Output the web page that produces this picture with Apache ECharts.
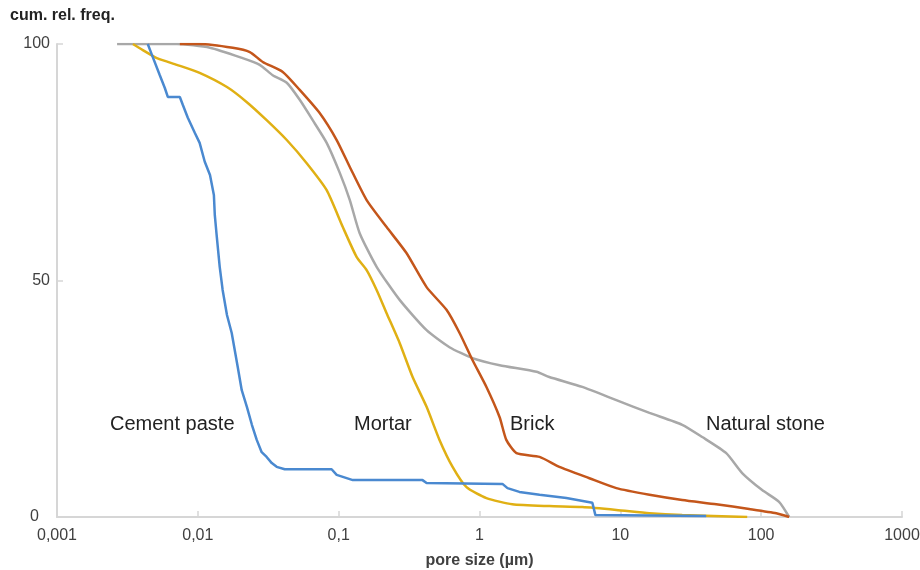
<html>
<head>
    <meta charset="utf-8">
    <title>Pore size distribution</title>
    <script src="https://cdn.jsdelivr.net/npm/echarts@6/dist/echarts.min.js"></script>
    <style>
        html, body { margin: 0; padding: 0; width: 920px; height: 570px; background: #fff; }
        #main { width: 920px; height: 570px; }
    </style>
</head>
<body>
    <div id="main"></div>
    <script type="text/javascript">
        // pore size (µm) / cumulative relative frequency (%)
        var xTickLabels = ['0,001', '0,01', '0,1', '1', '10', '100', '1000'];
        var yTickLabels = ['0', '50', '100'];
        var seriesNames = ['Cement paste', 'Mortar', 'Brick', 'Natural stone'];

        var cementPaste = [
            [0.00441, 100], [0.00472, 97.7], [0.00537, 93.4], [0.00583, 90.7], [0.00612, 88.8],
            [0.00745, 88.8], [0.00783, 87.1], [0.00849, 84.4], [0.00953, 81.2], [0.0103, 79.1],
            [0.0112, 75.1], [0.0122, 72.3], [0.0130, 68.1], [0.0132, 63.8], [0.0136, 59.6],
            [0.0143, 52.9], [0.0150, 48.0], [0.0161, 42.7], [0.0174, 38.9], [0.0192, 31.7],
            [0.0205, 26.8], [0.0223, 23.3], [0.0242, 19.5], [0.0262, 16.3], [0.0284, 13.7],
            [0.0308, 12.7], [0.0335, 11.4], [0.0363, 10.6], [0.0414, 10.1], [0.0891, 10.1],
            [0.0968, 8.9], [0.126, 7.8], [0.394, 7.8], [0.421, 7.2], [1.455, 7.0],
            [1.58, 6.1], [1.92, 5.3], [2.67, 4.7], [4.14, 4.0], [6.33, 3.0],
            [6.65, 0.4], [40.7, 0.2]
        ];
        var mortar = [
            [0.00346, 100], [0.00407, 98.7], [0.00512, 97.0], [0.00709, 95.6], [0.0103, 93.9],
            [0.0161, 90.9], [0.0223, 87.7], [0.0308, 83.9], [0.0428, 79.7], [0.0593, 74.8],
            [0.0822, 69.1], [0.107, 61.3], [0.134, 55.0], [0.158, 52.2], [0.186, 48.0],
            [0.219, 43.1], [0.271, 36.8], [0.335, 29.6], [0.421, 23.3], [0.520, 16.3],
            [0.644, 10.6], [0.809, 6.3], [1.12, 4.0], [1.71, 2.7], [3.13, 2.3],
            [5.37, 2.1], [9.37, 1.5], [16.1, 0.8], [27.5, 0.4], [79.6, 0]
        ];
        var brick = [
            [0.00745, 100], [0.0103, 100], [0.0177, 99.2], [0.0234, 98.3], [0.0289, 96.2],
            [0.0401, 94.1], [0.0529, 90.3], [0.0733, 85.4], [0.0968, 79.7], [0.120, 74.0],
            [0.158, 67.0], [0.219, 61.3], [0.303, 55.8], [0.421, 48.6], [0.583, 43.8],
            [0.722, 38.9], [0.891, 33.2], [1.12, 27.5], [1.39, 21.1], [1.55, 16.3],
            [1.83, 13.5], [2.67, 12.7], [3.69, 10.6], [6.03, 8.2], [9.37, 6.1],
            [16.1, 4.7], [27.5, 3.6], [48.0, 2.7], [82.2, 1.7], [128, 0.8], [158, 0]
        ];
        var naturalStone = [
            [0.00267, 100], [0.00709, 100], [0.0122, 99.2], [0.0208, 97.0], [0.0275, 95.6],
            [0.0340, 93.4], [0.0428, 91.8], [0.0529, 88.2], [0.0654, 83.9], [0.0822, 79.1],
            [0.102, 72.7], [0.120, 67.0], [0.141, 60.0], [0.186, 52.9], [0.271, 45.9],
            [0.421, 39.5], [0.612, 35.9], [0.891, 33.6], [1.39, 32.1], [2.54, 30.7],
            [3.13, 29.6], [5.37, 27.5], [9.37, 24.7], [16.1, 22.0], [27.5, 19.5],
            [38.2, 16.9], [56.5, 13.5], [73.3, 9.3], [101.6, 5.7], [134, 3.2], [158, 0]
        ];

        var colors = ['#4a89d0', '#e0b014', '#c4561b', '#a8a8a8'];
        var font = 'Liberation Sans, Arial, sans-serif';
        var myChart = echarts.init(document.getElementById('main'), null, { renderer: 'canvas' });

        function lineSeries(name, data, color, smooth) {
            return {
                name: name,
                type: 'line',
                data: data,
                showSymbol: false,
                smooth: smooth,
                lineStyle: { color: color, width: 2.5 },
                itemStyle: { color: color },
                animation: false
            };
        }

        var labelStyle = { fontFamily: font, fontSize: 20, fill: '#222' };

        var option = {
            animation: false,
            grid: {
                left: 57,
                right: 18,
                top: 44,
                bottom: 53,
                outerBoundsMode: 'none'
            },
            xAxis: {
                type: 'log',
                logBase: 10,
                min: 0.001,
                max: 1000,
                name: 'pore size (µm)',
                nameLocation: 'middle',
                nameGap: 36,
                nameTextStyle: { fontFamily: font, fontSize: 16, fontWeight: 'bold', color: '#404040' },
                axisLine: { lineStyle: { color: '#d6d6d6', width: 2 } },
                axisTick: { inside: true, length: 6, lineStyle: { color: '#d6d6d6', width: 1.5 } },
                axisLabel: {
                    fontFamily: font,
                    fontSize: 16,
                    color: '#404040',
                    margin: 11,
                    formatter: function (v) {
                        var i = Math.round(Math.log10(v)) + 3;
                        return xTickLabels[i];
                    }
                },
                splitLine: { show: false },
                minorTick: { show: false }
            },
            yAxis: {
                type: 'value',
                min: 0,
                max: 100,
                interval: 50,
                axisLine: { show: true, lineStyle: { color: '#d6d6d6', width: 2 } },
                axisTick: { show: true, inside: true, length: 6, lineStyle: { color: '#d6d6d6', width: 1.5 } },
                axisLabel: {
                    fontFamily: font,
                    fontSize: 16,
                    color: '#404040',
                    margin: 7,
                    formatter: function (v) {
                        var i = Math.round(v / 50);
                        return i === 0 ? '{z|' + yTickLabels[i] + '}' : yTickLabels[i];
                    },
                    rich: {
                        z: { fontFamily: font, fontSize: 16, color: '#404040', padding: [0, 11, 0, 0] }
                    }
                },
                splitLine: { show: false }
            },
            graphic: [
                { type: 'text', left: 10, top: 8, style: { text: 'cum. rel. freq.', fontFamily: font, fontSize: 16, fontWeight: 'bold', fill: '#222' } },
                { type: 'text', left: 110, top: 414, style: Object.assign({ text: seriesNames[0] }, labelStyle) },
                { type: 'text', left: 354, top: 414, style: Object.assign({ text: seriesNames[1] }, labelStyle) },
                { type: 'text', left: 510, top: 414, style: Object.assign({ text: seriesNames[2] }, labelStyle) },
                { type: 'text', left: 706, top: 414, style: Object.assign({ text: seriesNames[3] }, labelStyle) }
            ],
            series: [
                lineSeries(seriesNames[3], naturalStone, colors[3], 0.2),
                lineSeries(seriesNames[2], brick, colors[2], 0.2),
                lineSeries(seriesNames[1], mortar, colors[1], 0.2),
                lineSeries(seriesNames[0], cementPaste, colors[0], false)
            ]
        };
        myChart.setOption(option);
    </script>
</body>
</html>
